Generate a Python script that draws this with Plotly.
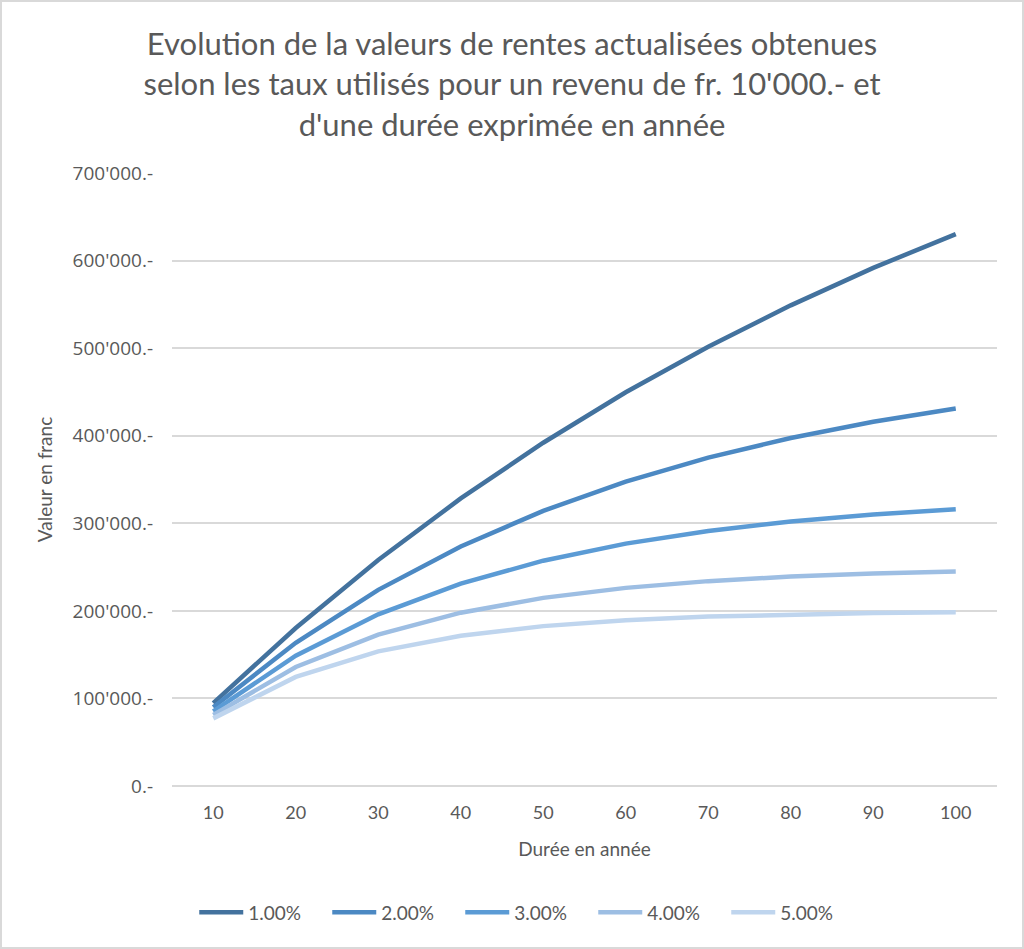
import plotly.graph_objects as go

durees = [10, 20, 30, 40, 50, 60, 70, 80, 90, 100]
taux = ["1.00%", "2.00%", "3.00%", "4.00%", "5.00%"]

rente_1 = [94713, 180456, 258077, 328347, 391961, 449550, 501685, 548882, 591609, 630289]
rente_2 = [89826, 163514, 223965, 273555, 314236, 347609, 374986, 397445, 415869, 430984]
rente_3 = [85302, 148775, 196004, 231148, 257298, 276756, 291234, 302008, 310024, 315989]
rente_4 = [81109, 135903, 172920, 197928, 214822, 226235, 233945, 239154, 242673, 245050]
rente_5 = [77217, 124622, 153725, 171591, 182559, 189293, 193427, 195965, 197523, 198479]

y_ticks = [0, 100000, 200000, 300000, 400000, 500000, 600000, 700000]
y_labels = ["0.-", "100'000.-", "200'000.-", "300'000.-", "400'000.-",
            "500'000.-", "600'000.-", "700'000.-"]

colors = ["#43729E", "#4C89C3", "#5B9BD5", "#9DBEE3", "#BFD5EE"]
series = [rente_1, rente_2, rente_3, rente_4, rente_5]

txt_font = "Lato, sans-serif"
grey = "#595959"

fig = go.Figure()
for name, vals, col in zip(taux, series, colors):
    fig.add_trace(go.Scatter(
        x=[str(d) for d in durees], y=vals, name=name, mode="lines",
        line=dict(color=col, width=4.5),
    ))

fig.update_layout(
    width=1024, height=949,
    paper_bgcolor="white", plot_bgcolor="white",
    margin=dict(l=172, r=27, t=173, b=163),
    title=dict(
        text="Evolution de la valeurs de rentes actualisées obtenues<br>"
             "selon les taux utilisés pour un revenu de fr. 10'000.- et<br>"
             "d'une durée exprimée en année",
        x=0.5, xanchor="center", yref="container", y=1 - 55 / 949, yanchor="top",
        font=dict(family=txt_font, size=31, color=grey),
    ),
    xaxis=dict(
        type="category", range=[-0.5, 9.5], showgrid=False, zeroline=False,
        showline=False, ticks="",
        tickfont=dict(family=txt_font, size=18, color=grey),
        ticklabelstandoff=14,
        title=dict(text="Durée en année", font=dict(family=txt_font, size=19, color=grey),
                   standoff=20),
    ),
    yaxis=dict(
        range=[0, 700000], tickvals=y_ticks, ticktext=y_labels,
        showgrid=True, gridcolor="#D9D9D9", gridwidth=1.5,
        zeroline=True, zerolinecolor="#D9D9D9", zerolinewidth=1.5,
        tickfont=dict(family="'Open Sans', sans-serif", size=19, color=grey),
        ticklabelstandoff=18,
        title=dict(text="Valeur en franc", font=dict(family=txt_font, size=19, color=grey),
                   standoff=14),
    ),
    legend=dict(
        orientation="h", x=0.43, xanchor="center", y=-0.175, yanchor="top",
        font=dict(family=txt_font, size=19, color=grey),
        itemwidth=44, entrywidth=74, tracegroupgap=0,
    ),
    shapes=[dict(type="rect", xref="paper", yref="paper", layer="below",
                 x0=-171/825, x1=1+26/825, y0=-162/613, y1=1+172/613,
                 line=dict(color="#D9D9D9", width=2))],
)

fig.write_html("out.html", config={"displayModeBar": False},
               post_script="document.body.style.margin='0';")
